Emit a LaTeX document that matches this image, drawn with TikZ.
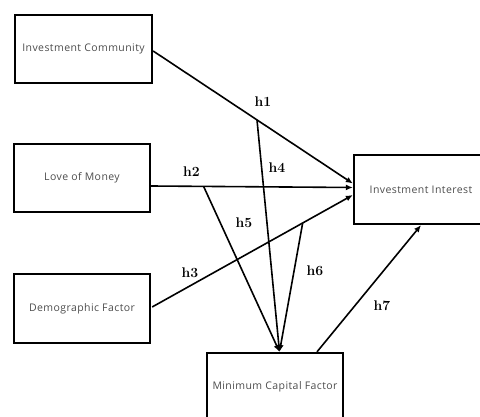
\documentclass[tikz,border=0pt]{standalone}
\usepackage{fontspec}
\newfontfamily\boxfont[LetterSpace=4]{Open Sans}
\usetikzlibrary{arrows.meta,calc}
\tikzset{
  box/.style={draw, line width=2.3pt, rectangle, minimum width=136pt, minimum height=68pt,
    inner sep=0pt, font=\boxfont\fontsize{10.5}{12}\selectfont, text=black!70},
  conn/.style={line width=1.6pt, -{Latex[length=7pt,width=6pt]}},
  hlab/.style={inner sep=0pt, font=\fontsize{14}{16}\selectfont\bfseries}
}
\begin{document}
\begin{tikzpicture}[x=1pt,y=-1pt]
\useasboundingbox (0,0) rectangle (480,417);
\clip (0,0) rectangle (480,417);
\node[box, minimum width=137pt] (ic) at (83.5,49) {Investment Community};
\node[box] (lom) at (82,178) {Love of Money};
\node[box, minimum height=69pt] (dem) at (82,308.5) {Demographic Factor};
\node[box, minimum width=134pt, minimum height=69pt] (ii) at (421,189.5) {Investment Interest};
\node[box] (mcf) at (275,387) {Minimum Capital Factor};

\draw[conn] ($(ic.east)+(0,2)$) -- coordinate[pos=0.52] (p1) ($(ii.west)+(0,-6)$);
\draw[conn] ($(lom.east)+(0,8)$) -- coordinate[pos=0.26] (p2) ($(ii.west)+(0,-2)$);
\draw[conn] ($(dem.east)+(1,-1.5)$) -- coordinate[pos=0.75] (p3) ($(ii.west)+(0,5.5)$);
\draw[conn] (p1) -- ($(mcf.north)+(4.5,0)$);
\draw[conn] (p2) -- ($(mcf.north)+(4.5,0)$);
\draw[conn] (p3) -- ($(mcf.north)+(4.5,0)$);
\draw[conn] ($(mcf.north)+(42,0)$) -- (ii.south);

\node[hlab] (l1) at (263,101.5) {h1};
\node[hlab] (l2) at (191.5,171.5) {h2};
\node[hlab] (l3) at (190,273) {h3};
\node[hlab] (l4) at (277,168) {h4};
\node[hlab] (l5) at (244,223) {h5};
\node[hlab] (l6) at (315,271) {h6};
\node[hlab] (l7) at (382,306) {h7};
\end{tikzpicture}
\end{document}
